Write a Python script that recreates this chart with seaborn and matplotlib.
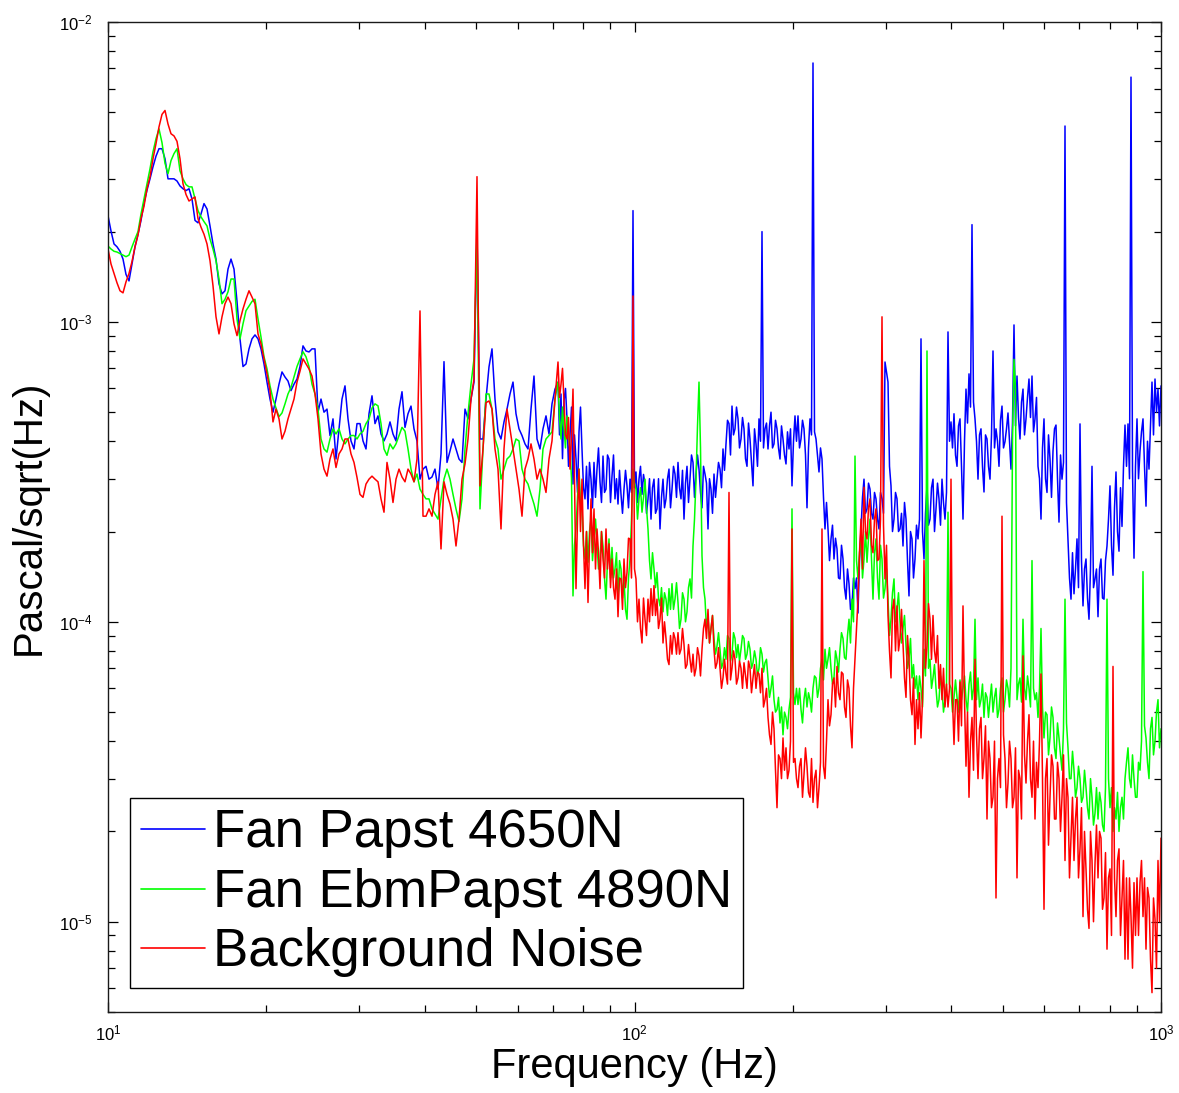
import numpy as np
import pandas as pd
import matplotlib
matplotlib.use("Agg")
import matplotlib.pyplot as plt
import seaborn as sns
from matplotlib.ticker import LogLocator, NullFormatter, LogFormatterMathtext

# ---------------- data (in micro-Pascal/sqrt(Hz)) ----------------
freq_start_hz = 10.0
freq_stop_hz = 1000.0
n_bins = 352          # log-spaced bins, 10 Hz .. 1 kHz
dense_from_bin = 150  # above ~76 Hz the spectra were also read between bins

series_labels = ["Fan Papst 4650N", "Fan EbmPapst 4890N", "Background Noise"]
series_colors = ["#0000ff", "#00ff00", "#ff0000"]

fan_papst_upa = (
    [2260, 2010, 1820, 1780, 1720, 1620, 1440, 1370, 1560, 1780]
    + [1960, 2180, 2490, 2750, 3000, 3290, 3570, 3780, 3780, 3500]
    + [3000, 3000, 3000, 2950, 2840, 2780, 2740, 2780, 2570, 2180]
    + [2140, 2290, 2480, 2380, 2090, 1820, 1620, 1340, 1240, 1270]
    + [1500, 1620, 1500, 1170, 878, 710, 724, 813, 878, 905]
    + [878, 813, 724, 630, 553, 500, 553, 620, 681, 655]
    + [635, 590, 620, 645, 710, 832, 800, 794, 813, 813]
    + [500, 553, 500, 512, 418, 475, 349, 440, 553, 612]
    + [475, 401, 377, 458, 458, 401, 377, 494, 567, 458]
    + [486, 423, 401, 423, 464, 423, 401, 512, 585, 445]
    + [494, 524, 440, 401, 299, 323, 330, 299, 304, 323]
    + [277, 363, 737, 340, 371, 407, 377, 349, 340, 512]
    + [475, 553, 630, 2000, 407, 407, 553, 708, 813, 553]
    + [430, 407, 464, 512, 575, 630, 494, 440, 418, 392]
    + [377, 512, 660, 407, 377, 440, 486, 423, 533, 597]
    + [630, 575, 545, 475, 418, 288, 349, 430, 377, 257]
    + [238, 299, 340, 323, 293, 357, 277, 349, 306, 257]
    + [247, 266, 277, 284, 299, 2350, 316, 299, 266, 288]
    + [257, 220, 299, 238, 204, 299, 257, 323, 277, 311]
    + [340, 257, 220, 330, 299, 340, 311, 323, 240, 311]
    + [204, 277, 311, 299, 323, 377, 392, 458, 524, 440]
    + [475, 407, 440, 330, 407, 284, 392, 475, 2000, 440]
    + [377, 500, 392, 440, 349, 407, 336, 377, 284, 486]
    + [486, 407, 440, 240, 475, 7300, 407, 316, 349, 204]
    + [204, 189, 162, 175, 139, 162, 119, 134, 113, 129]
    + [107, 204, 299, 238, 277, 220, 257, 204, 257, 735]
    + [630, 284, 220, 257, 204, 179, 220, 122, 189, 162]
    + [189, 878, 162, 284, 220, 299, 238, 257, 299, 220]
    + [926, 464, 494, 330, 475, 220, 597, 671, 2110, 475]
    + [299, 440, 271, 407, 299, 800, 440, 330, 524, 399]
    + [497, 323, 977, 660, 407, 597, 475, 645, 660, 475]
    + [330, 220, 475, 270, 349, 371, 453, 215, 299, 4500]
    + [189, 119, 124, 189, 457, 113, 162, 102, 330, 139]
    + [104, 162, 119, 179, 284, 143, 316, 172, 208, 453]
    + [457, 6550, 163, 475, 371, 475, 243, 323, 630, 645]
    + [597, 612]
)
fan_papst_between_upa = (
    [420, 350, 600, 330, 520, 420, 270, 520, 280, 330]
    + [340, 240, 260, 380, 250, 270, 360, 250, 360, 300]
    + [320, 230, 320, 240, 270, 280, 250, 330, 310, 230]
    + [300, 280, 230, 300, 260, 240, 300, 240, 330, 260]
    + [280, 320, 290, 250, 360, 260, 360, 270, 330, 290]
    + [300, 230, 260, 340, 280, 320, 470, 360, 420, 520]
    + [380, 480, 350, 460, 340, 440, 330, 400, 380, 460]
    + [450, 380, 470, 380, 450, 360, 430, 440, 400, 400]
    + [380, 470, 360, 380, 420, 430, 360, 380, 260, 250]
    + [160, 210, 190, 140, 180, 130, 150, 110, 140, 140]
    + [160, 260, 230, 290, 230, 270, 220, 270, 230, 680]
    + [330, 200, 270, 200, 230, 250, 160, 200, 140, 210]
    + [220, 200, 230, 210, 280, 200, 290, 210, 250, 270]
    + [400, 380, 360, 450, 330, 400, 460, 520, 540, 400]
    + [420, 330, 420, 330, 420, 380, 400, 470, 380, 440]
    + [400, 460, 450, 480, 540, 420, 560, 480, 430, 560]
    + [300, 380, 300, 420, 260, 440, 300, 360, 340, 250]
    + [140, 170, 150, 130, 160, 150, 120, 150, 130, 150]
    + [150, 120, 160, 220, 180, 240, 200, 280, 330, 330]
    + [300, 320, 330, 300, 430, 330, 400, 450, 420, 500]
    + [450]
)

fan_ebmpapst_upa = (
    [1790, 1750, 1720, 1710, 1690, 1670, 1650, 1670, 1780, 1890]
    + [2000, 2290, 2570, 2890, 3240, 3690, 4080, 4400, 3960, 3380]
    + [3120, 3450, 3640, 3780, 3190, 3000, 2870, 2820, 2820, 2570]
    + [2350, 2240, 2160, 2090, 1890, 1750, 1600, 1390, 1150, 1190]
    + [1260, 1390, 1390, 1023, 878, 985, 1090, 1130, 1170, 1190]
    + [1023, 890, 765, 697, 612, 553, 516, 483, 497, 533]
    + [575, 605, 655, 710, 753, 795, 765, 710, 620, 575]
    + [512, 407, 377, 368, 407, 440, 423, 440, 407, 392]
    + [407, 418, 418, 407, 423, 432, 458, 475, 516, 533]
    + [525, 458, 377, 359, 392, 377, 392, 418, 445, 432]
    + [377, 323, 293, 311, 277, 266, 257, 257, 238, 229]
    + [220, 257, 299, 323, 299, 266, 238, 216, 257, 377]
    + [494, 620, 753, 1890, 238, 377, 575, 575, 512, 407]
    + [377, 299, 323, 349, 357, 377, 407, 401, 323, 299]
    + [288, 266, 247, 225, 277, 377, 407, 418, 430, 553]
    + [630, 407, 440, 486, 377, 122, 204, 323, 238, 162]
    + [158, 220, 189, 182, 162, 179, 119, 189, 177, 150]
    + [119, 150, 139, 102, 162, 323, 277, 257, 232, 299]
    + [204, 139, 150, 146, 113, 108, 119, 129, 134, 119]
    + [116, 102, 119, 108, 139, 179, 299, 630, 166, 119]
    + [105, 95, 88, 83, 81, 73, 75, 88, 78, 88]
    + [84, 81, 88, 78, 81, 73, 75, 70, 78, 73]
    + [65, 60, 55, 51, 46, 42, 48, 51, 238, 53]
    + [53, 51, 55, 52, 55, 60, 65, 60, 75, 81]
    + [75, 70, 65, 75, 81, 88, 75, 102, 119, 357]
    + [139, 189, 162, 158, 220, 119, 189, 119, 162, 129]
    + [119, 102, 139, 110, 100, 95, 83, 75, 65, 60]
    + [55, 60, 81, 800, 75, 65, 60, 55, 60, 55]
    + [232, 60, 56, 56, 64, 60, 55, 62, 55, 102]
    + [65, 55, 48, 56, 55, 50, 60, 51, 65, 55]
    + [60, 70, 750, 55, 65, 102, 55, 60, 160, 55]
    + [48, 95, 41, 49, 41, 48, 35, 41, 32, 119]
    + [38, 30, 32, 28, 30, 26, 28, 22, 26, 23]
    + [22, 25, 20, 119, 24, 20, 22, 20, 26, 30]
    + [38, 28, 30, 26, 32, 147, 41, 30, 48, 40]
    + [55, 44]
)
fan_ebmpapst_between_upa = (
    [480, 520, 380, 420, 300, 180, 260, 250, 180, 200]
    + [200, 160, 220, 150, 200, 140, 160, 140, 140, 170]
    + [160, 120, 110, 140, 220, 290, 220, 280, 260, 240]
    + [160, 170, 130, 120, 130, 125, 105, 110, 110, 135]
    + [95, 125, 100, 130, 120, 220, 450, 380, 130, 95]
    + [85, 105, 78, 92, 70, 82, 90, 74, 92, 76]
    + [74, 90, 75, 86, 70, 80, 66, 82, 68, 75]
    + [56, 66, 50, 56, 52, 50, 44, 56, 58, 60]
    + [60, 46, 60, 58, 50, 66, 56, 70, 64, 70]
    + [82, 62, 80, 68, 92, 76, 90, 85, 100, 160]
    + [170, 140, 200, 190, 160, 170, 140, 180, 120, 150]
    + [90, 125, 100, 125, 85, 105, 70, 88, 72, 66]
    + [66, 52, 66, 70, 60, 72, 52, 66, 50, 62]
    + [62, 50, 64, 50, 55, 66, 50, 68, 60, 55]
    + [52, 62, 58, 48, 62, 56, 48, 60, 50, 64]
    + [52, 400, 600, 62, 54, 60, 66, 52, 60, 58]
    + [60, 52, 50, 36, 52, 38, 46, 36, 44, 46]
    + [30, 37, 26, 33, 25, 32, 24, 30, 21, 28]
    + [27, 21, 28, 30, 28, 24, 27, 24, 22, 34]
    + [30, 36, 26, 34, 40, 45, 34, 44, 36, 50]
    + [38]
)

background_noise_upa = (
    [1750, 1560, 1450, 1350, 1270, 1250, 1360, 1450, 1590, 1780]
    + [1950, 2210, 2430, 2780, 3050, 3500, 3930, 4470, 4920, 5070]
    + [4570, 4240, 4170, 4000, 3500, 2890, 2660, 2530, 2570, 2610]
    + [2210, 2070, 1960, 1820, 1600, 1320, 1040, 912, 1040, 1150]
    + [1210, 1150, 985, 900, 1010, 1105, 1190, 1270, 1210, 1150]
    + [912, 845, 753, 671, 590, 464, 512, 475, 407, 432]
    + [475, 512, 553, 630, 685, 753, 725, 697, 660, 575]
    + [475, 363, 323, 306, 349, 377, 327, 363, 377, 407]
    + [407, 363, 340, 303, 266, 260, 288, 299, 306, 299]
    + [293, 257, 232, 340, 299, 250, 299, 323, 304, 293]
    + [323, 311, 293, 349, 1088, 225, 225, 238, 225, 266]
    + [293, 175, 293, 266, 247, 220, 179, 220, 299, 336]
    + [407, 553, 645, 3050, 284, 377, 538, 545, 512, 377]
    + [323, 204, 377, 512, 440, 377, 323, 277, 225, 323]
    + [349, 392, 349, 299, 323, 299, 270, 349, 401, 553]
    + [735, 620, 545, 407, 323, 597, 129, 323, 299, 129]
    + [116, 257, 238, 204, 129, 162, 204, 182, 162, 119]
    + [104, 139, 162, 146, 189, 1220, 139, 119, 85, 102]
    + [119, 129, 132, 119, 102, 85, 88, 72, 78, 88]
    + [92, 81, 84, 72, 75, 78, 70, 77, 81, 102]
    + [110, 95, 81, 73, 70, 65, 67, 270, 70, 75]
    + [65, 70, 73, 60, 70, 65, 60, 67, 70, 55]
    + [48, 39, 44, 24, 35, 41, 38, 32, 204, 35]
    + [28, 35, 31, 33, 26, 25, 32, 28, 204, 30]
    + [55, 49, 65, 71, 55, 67, 48, 60, 38, 75]
    + [119, 220, 281, 189, 257, 170, 238, 162, 1040, 139]
    + [105, 65, 119, 113, 88, 85, 56, 75, 49, 39]
    + [44, 41, 160, 83, 102, 105, 73, 60, 55, 52]
    + [52, 299, 39, 55, 63, 113, 33, 26, 48, 75]
    + [30, 48, 35, 22, 35, 26, 12, 35, 225, 35]
    + [29, 35, 26, 14, 30, 77, 29, 49, 26, 22]
    + [28, 67, 11, 35, 26, 33, 22, 30, 26, 16]
    + [26, 19, 16, 26, 17.5, 10.4, 15, 9.5, 16, 15.6]
    + [14, 19, 12, 8.1, 15, 71, 10.4, 17.5, 12, 7.5]
    + [7.5, 10.4, 13.5, 14, 13.5, 10.4, 8.1, 12, 5.8, 10.2]
    + [16, 19]
)
background_noise_between_upa = (
    [560, 700, 420, 480, 420, 300, 220, 200, 180, 200]
    + [180, 170, 150, 170, 200, 140, 150, 130, 130, 150]
    + [140, 110, 130, 190, 140, 150, 100, 95, 120, 90]
    + [100, 105, 105, 95, 120, 100, 75, 90, 92, 78]
    + [78, 95, 70, 84, 68, 66, 82, 66, 95, 88]
    + [85, 105, 70, 82, 60, 75, 62, 64, 80, 62]
    + [74, 60, 66, 74, 58, 72, 68, 58, 52, 60]
    + [42, 50, 32, 36, 30, 32, 30, 40, 34, 30]
    + [33, 26, 38, 27, 35, 30, 24, 34, 33, 40]
    + [45, 62, 52, 58, 68, 52, 64, 45, 60, 95]
    + [170, 150, 200, 240, 180, 220, 160, 220, 210, 180]
    + [80, 110, 80, 80, 110, 65, 90, 55, 65, 55]
    + [58, 55, 70, 115, 75, 80, 90, 72, 70, 62]
    + [60, 55, 55, 40, 45, 55, 50, 40, 32, 42]
    + [44, 30, 45, 40, 24, 40, 30, 28, 42, 24]
    + [40, 24, 38, 32, 22, 36, 40, 30, 40, 34]
    + [40, 30, 30, 18, 36, 22, 34, 20, 36, 30]
    + [14, 26, 22, 14, 24, 20, 11, 20, 10, 21]
    + [20, 11, 17, 14, 9, 14, 16, 9, 16, 14]
    + [14, 7, 9, 9, 16, 14, 13, 7.5, 12, 7]
    + [10]
)

# ---------------- build the table ----------------
freq = np.geomspace(freq_start_hz, freq_stop_hz, n_bins)
freq_between = np.sqrt(freq[dense_from_bin:-1] * freq[dense_from_bin + 1:])

on_bins = [fan_papst_upa, fan_ebmpapst_upa, background_noise_upa]
between_bins = [fan_papst_between_upa, fan_ebmpapst_between_upa, background_noise_between_upa]

frames = []
for label, a, b in zip(series_labels, on_bins, between_bins):
    assert len(a) == n_bins, (label, len(a))
    assert len(b) == len(freq_between), (label, len(b))
    frames.append(pd.DataFrame({
        "Frequency": np.concatenate([freq, freq_between]),
        "Value": np.concatenate([np.asarray(a, float), np.asarray(b, float)]) * 1e-6,
        "Series": label,
    }))
df = pd.concat(frames, ignore_index=True)

# ---------------- plot ----------------
sns.set_style("ticks")
plt.rcParams["font.family"] = ["Liberation Sans", "DejaVu Sans"]
plt.rcParams["mathtext.fontset"] = "custom"
plt.rcParams["mathtext.rm"] = "Liberation Sans"
plt.rcParams["mathtext.it"] = "Liberation Sans:italic"
plt.rcParams["axes.unicode_minus"] = False
for key in ["text.color", "axes.labelcolor", "xtick.color", "ytick.color", "axes.edgecolor"]:
    plt.rcParams[key] = "black"

W, H = 1179, 1093
fig = plt.figure(figsize=(W / 100, H / 100), dpi=100)
fig.patch.set_facecolor("white")
ax = fig.add_axes([108 / W, 1 - 1012 / H, 1053 / W, 990 / H])

sns.lineplot(
    data=df, x="Frequency", y="Value", hue="Series",
    hue_order=series_labels, palette=dict(zip(series_labels, series_colors)),
    linewidth=1.1, estimator=None, sort=True, ax=ax,
)

ax.set_xscale("log")
ax.set_yscale("log")
ax.set_xlim(freq_start_hz, freq_stop_hz)
ax.set_ylim(5.0e-6, 1e-2)

ax.xaxis.set_major_locator(LogLocator(base=10, numticks=10))
ax.yaxis.set_major_locator(LogLocator(base=10, numticks=10))
ax.xaxis.set_minor_locator(LogLocator(base=10, subs=np.arange(2, 10), numticks=50))
ax.yaxis.set_minor_locator(LogLocator(base=10, subs=np.arange(2, 10), numticks=50))
ax.xaxis.set_major_formatter(LogFormatterMathtext())
ax.yaxis.set_major_formatter(LogFormatterMathtext())
ax.xaxis.set_minor_formatter(NullFormatter())
ax.yaxis.set_minor_formatter(NullFormatter())

ax.tick_params(which="both", direction="in", top=True, right=True,
               colors="black", width=0.9, labelsize=12)
ax.tick_params(which="major", length=7)
ax.tick_params(which="minor", length=5)
ax.tick_params(axis="x", pad=8)
ax.tick_params(axis="y", pad=11)
for sp in ax.spines.values():
    sp.set_visible(True)
    sp.set_color("#1a1a1a")
    sp.set_linewidth(1.0)

ax.set_xlabel("Frequency (Hz)", fontsize=30, labelpad=3)
ax.set_ylabel("Pascal/sqrt(Hz)", fontsize=29, labelpad=8)

handles, labels = ax.get_legend_handles_labels()
leg = ax.legend(
    handles, labels, loc="lower left", bbox_to_anchor=(0.0209, 0.0242),
    borderaxespad=0, fontsize=38, frameon=True, fancybox=False,
    edgecolor="black", framealpha=1, handlelength=1.23, handletextpad=0.15,
    borderpad=0.2, labelspacing=0.18,
)
leg.get_frame().set_linewidth(1.0)
for line in leg.get_lines():
    line.set_linewidth(1.2)

fig.savefig("out.png", dpi=100, facecolor="white")
